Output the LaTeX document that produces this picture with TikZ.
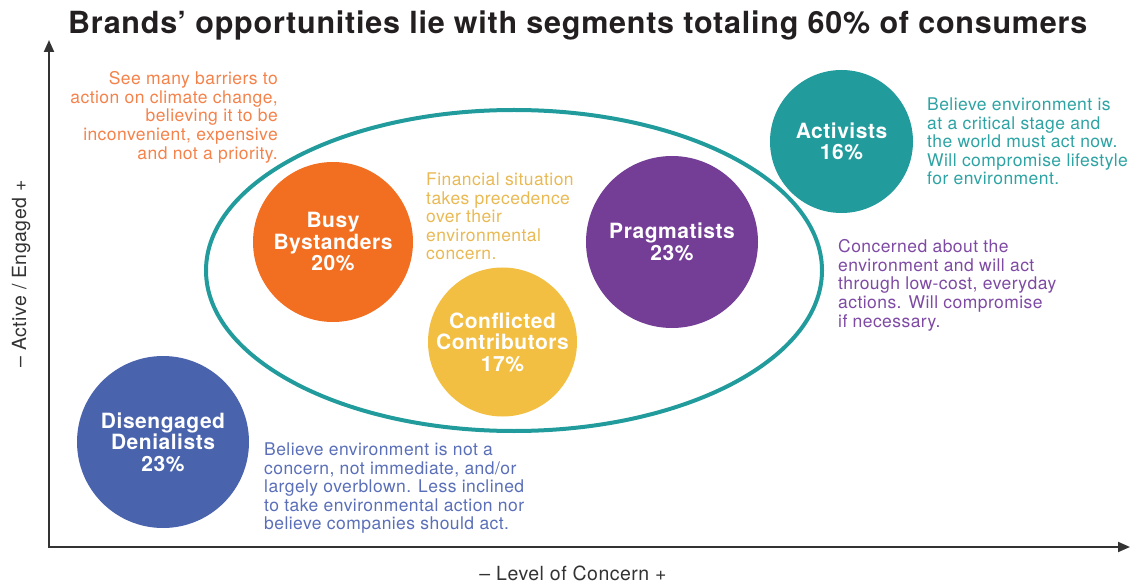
\documentclass[tikz,border=0pt]{standalone}
\usepackage{fontspec}
\setmainfont{TeX Gyre Heros}
\newfontfamily\wideheros{TeX Gyre Heros}[LetterSpace=2.5]
\usetikzlibrary{arrows.meta,shapes.geometric}

\definecolor{c_orange}{HTML}{F26F22}
\definecolor{c_yellow}{HTML}{F2BF43}
\definecolor{c_purple}{HTML}{743E96}
\definecolor{c_teal}{HTML}{229B9C}
\definecolor{c_blue}{HTML}{4A63AD}
\definecolor{t_orange}{HTML}{F4824A}
\definecolor{t_yellow}{HTML}{E9B954}
\definecolor{t_teal}{HTML}{2EA3A3}
\definecolor{t_purple}{HTML}{7E4AA3}
\definecolor{t_blue}{HTML}{5A6FB8}
\definecolor{axisgray}{HTML}{333333}
\definecolor{titlegray}{HTML}{231F20}

\tikzstyle{seg} = [circle, inner sep=0pt, text=white, align=center, font=\wideheros\fontsize{21}{21.5}\selectfont\bfseries]
\tikzstyle{note} = [inner sep=0pt, font=\wideheros\fontsize{17.5}{18.6}\selectfont]
\tikzstyle{ring} = [draw=c_teal, ellipse, line width=4pt, inner sep=0pt, minimum width=616pt, minimum height=321pt]
\tikzstyle{axislabel} = [inner sep=0pt, text=axisgray, font=\wideheros\fontsize{19.5}{20}\selectfont]

\begin{document}
\begin{tikzpicture}[x=1pt, y=-1pt, >={Triangle[length=12pt,width=10pt]}]
  \useasboundingbox (0,0) rectangle (1140,585);

  \node [anchor=base west, inner sep=0pt, text=titlegray, font=\wideheros\fontsize{30.5}{31}\selectfont\bfseries] (title) at (68,34) {Brands’ opportunities lie with segments totaling 60\% of consumers};

  \coordinate (o) at (49,547);
  \coordinate (ytip) at (49,40);
  \coordinate (xtip) at (1130,547);
  \draw [<->, draw=axisgray, line width=2pt] (ytip) -- (o) -- (xtip);

  \node [axislabel, anchor=base] (xlab) at (573,580) {– Level of Concern +};
  \node [axislabel, anchor=base, rotate=90] (ylab) at (26,274) {– Active / Engaged +};

  \node [ring] (ring) at (514,270.5) {};

  \node [seg, fill=c_blue, minimum size=172pt] (denial) at (163,442) {Disengaged\\Denialists\\23\%};
  \node [seg, fill=c_orange, minimum size=160pt] (busy) at (333,242) {Busy\\Bystanders\\20\%};
  \node [seg, fill=c_yellow, minimum size=149pt] (conflict) at (502.5,342) {Conflicted\\Contributors\\17\%};
  \node [seg, fill=c_purple, minimum size=172pt] (prag) at (672,242) {Pragmatists\\23\%};
  \node [seg, fill=c_teal, minimum size=143pt] (activ) at (841.5,141.5) {Activists\\16\%};

  \node [note, text=t_orange, align=right, anchor=north east] (busy_t) at (278,71.5) {See many barriers to\\action on climate change,\\believing it to be\\inconvenient, expensive\\and not a priority.};
  \node [note, text=t_yellow, align=left, anchor=north west] (conflict_t) at (426,172.5) {Financial situation\\takes precedence\\over their\\environmental\\concern.};
  \node [note, text=t_teal, align=left, anchor=north west] (activ_t) at (927,97.5) {Believe environment is\\at a critical stage and\\the world must act now.\\Will compromise lifestyle\\for environment.};
  \node [note, text=t_purple, align=left, anchor=north west] (prag_t) at (838,239.5) {Concerned about the\\environment and will act\\through low-cost, everyday\\actions. Will compromise\\if necessary.};
  \node [note, text=t_blue, align=left, anchor=north west] (denial_t) at (264,442.5) {Believe environment is not a\\concern, not immediate, and/or\\largely overblown. Less inclined\\to take environmental action nor\\believe companies should act.};
\end{tikzpicture}
\end{document}
